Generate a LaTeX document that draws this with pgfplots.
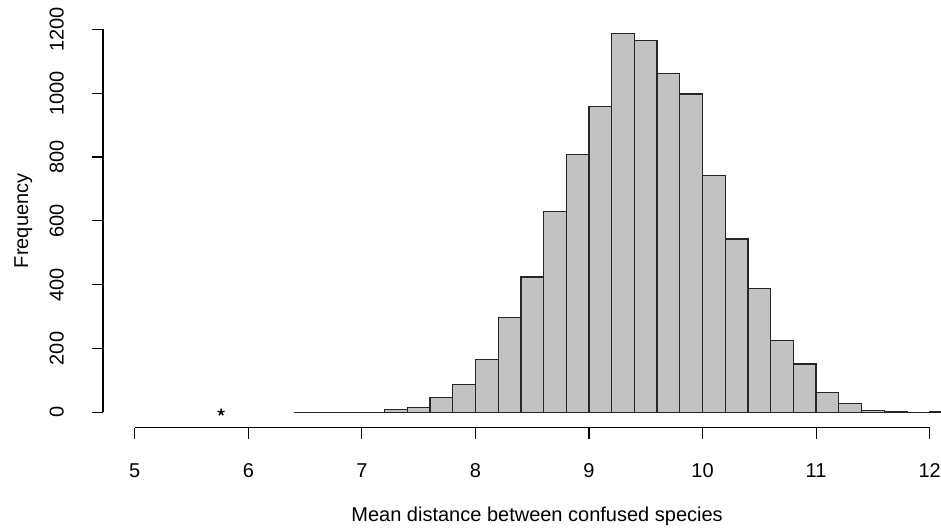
\documentclass[border=0pt]{standalone}
\usepackage{fontspec}
\setmainfont{Liberation Sans}
\usepackage{pgfplots}
\pgfplotsset{compat=1.18}
\definecolor{histgray}{RGB}{194,194,194}

\begin{document}
\begin{tikzpicture}
\useasboundingbox (-51.5pt,-50.2pt) rectangle (419pt,213.8pt);
\begin{axis}[
  at={(0,0)}, anchor=south west,
  scale only axis, width=419pt, height=206.8pt,
  xmin=4.72, xmax=12.10, ymin=-48, ymax=1248,
  axis line style={draw=none},
  xtick={5,...,12}, ytick={0,200,...,1200},
  xtick pos=left, ytick pos=left,
  tick align=outside, major tick length=5.7pt,
  tick style={black, line width=0.6pt},
  /pgf/number format/assume math mode=true,
  /pgf/number format/1000 sep={},
  xticklabel style={anchor=base, yshift=-19.2pt},
  yticklabel style={xshift=-14pt, rotate=90, anchor=base},
  xlabel={Mean distance between confused species},
  ylabel={Frequency},
  every axis x label/.style={at={(axis description cs:0.518,-0.2273)}, anchor=base},
  every axis y label/.style={at={(axis description cs:-0.0895,0.5)}, rotate=90, anchor=base},
  clip mode=individual,
]
% histogram counts, bins of width 0.2
\addplot[ybar interval, fill=histgray, draw=black!85, line width=0.65pt] coordinates {
  (6.4,0) (6.6,0) (6.8,0) (7.0,0) (7.2,8) (7.4,15) (7.6,46) (7.8,87)
  (8.0,166) (8.2,298) (8.4,424) (8.6,629) (8.8,808) (9.0,958)
  (9.2,1187) (9.4,1166) (9.6,1062) (9.8,997) (10.0,741) (10.2,543)
  (10.4,387) (10.6,226) (10.8,151) (11.0,62) (11.2,28) (11.4,6)
  (11.6,2) (11.8,0) (12.0,2) (12.2,0)
};
% observed value
\addplot[only marks, mark=star, mark size=1.8pt, black, line width=0.7pt] coordinates {(5.76,0)};
% R-style axis lines, spanning the ticks only
\draw[line width=0.6pt] (axis cs:5,-48) -- (axis cs:12,-48);
\draw[line width=0.6pt] (axis cs:4.72,0) -- (axis cs:4.72,1200);
\end{axis}
\end{tikzpicture}
\end{document}
